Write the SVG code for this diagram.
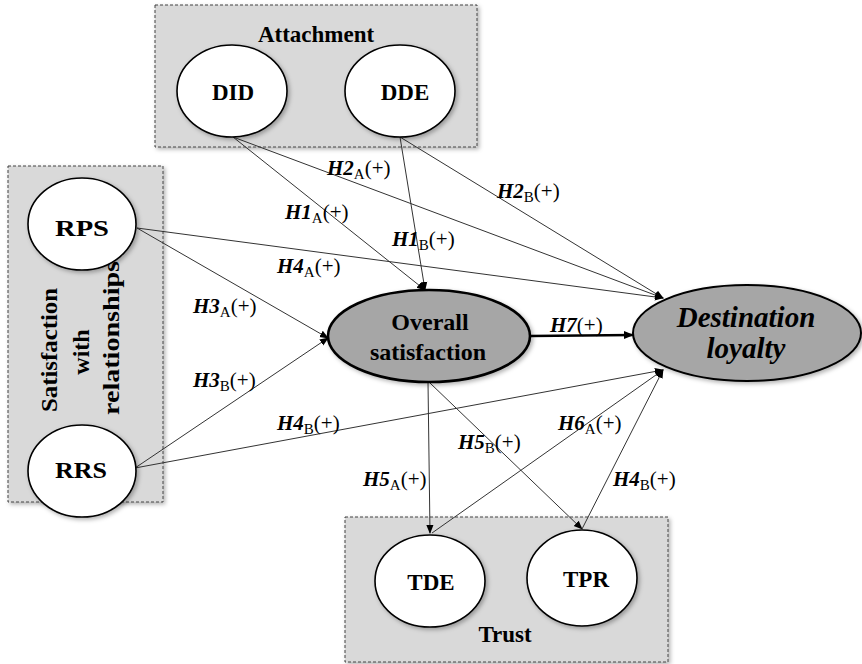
<svg xmlns="http://www.w3.org/2000/svg" width="862" height="664" viewBox="0 0 862 664">
<defs>
<style>
.box{fill:#d9d9d9;stroke:#444;stroke-width:1;stroke-dasharray:3,2}
.wn{fill:#fff;stroke:#000;stroke-width:1.6}
.gn{fill:#a6a6a6;stroke:#000;stroke-width:2.6}
.t{font-family:"Liberation Serif","Times New Roman",serif;font-weight:bold;font-size:23px;fill:#000;text-anchor:middle}
.ti{font-style:italic;font-size:29px}
.os{font-size:24px}
.vt{font-size:24px}
.c{stroke:#333;stroke-width:1;fill:none}
.lbl{font-family:"Liberation Serif","Times New Roman",serif;font-size:21px;fill:#000}
.h{font-weight:bold;font-style:italic}
.s{font-size:15px}
</style>
<filter id="sh" x="-20%" y="-20%" width="140%" height="140%">
<feDropShadow dx="2" dy="2" stdDeviation="2" flood-color="#000" flood-opacity="0.3"/>
</filter>
<marker id="ar" viewBox="0 0 10 10" refX="9" refY="5" markerWidth="9" markerHeight="9" markerUnits="userSpaceOnUse" orient="auto">
<path d="M0,1 L10,5 L0,9 Z" fill="#000"/>
</marker>
<marker id="arb" viewBox="0 0 10 10" refX="9" refY="5" markerWidth="10" markerHeight="10" markerUnits="userSpaceOnUse" orient="auto">
<path d="M0,1 L10,5 L0,9 Z" fill="#000"/>
</marker>
</defs>
<rect width="862" height="664" fill="#fff"/>

<g id="attachment">
<rect class="box" x="155" y="5" width="322" height="142" filter="url(#sh)"/>
<text class="t" x="316" y="42">Attachment</text>
</g>
<g id="satisfaction-relationships">
<rect class="box" x="8" y="166" width="155" height="336" filter="url(#sh)"/>
<text class="t vt" transform="translate(57,350) rotate(-90)" textLength="124" lengthAdjust="spacingAndGlyphs">Satisfaction</text>
<text class="t vt" transform="translate(89,352) rotate(-90)">with</text>
<text class="t vt" transform="translate(119,338) rotate(-90)" textLength="154" lengthAdjust="spacingAndGlyphs">relationships</text>
</g>
<g id="trust">
<rect class="box" x="345" y="517" width="323" height="145" filter="url(#sh)"/>
<text class="t" x="505" y="642">Trust</text>
</g>

<g id="connectors">
<line class="c" x1="233" y1="137" x2="425" y2="290" marker-end="url(#ar)"/>
<line class="c" x1="233" y1="137" x2="663" y2="298" marker-end="url(#ar)"/>
<line class="c" x1="400" y1="137" x2="425" y2="290" marker-end="url(#ar)"/>
<line class="c" x1="400" y1="137" x2="663" y2="298" marker-end="url(#ar)"/>
<line class="c" x1="137" y1="228" x2="663" y2="298" marker-end="url(#ar)"/>
<line class="c" x1="137" y1="228" x2="328" y2="338" marker-end="url(#ar)"/>
<line class="c" x1="135" y1="468" x2="328" y2="338" marker-end="url(#ar)"/>
<line class="c" x1="135" y1="468" x2="663" y2="370" marker-end="url(#ar)"/>
<line x1="530" y1="336" x2="633" y2="335" stroke="#000" stroke-width="2.6" marker-end="url(#arb)"/>
<line class="c" x1="428" y1="382" x2="430" y2="533" marker-end="url(#ar)"/>
<line class="c" x1="430" y1="383" x2="582" y2="529" marker-end="url(#ar)"/>
<line class="c" x1="432" y1="533" x2="663" y2="370" marker-end="url(#ar)"/>
<line class="c" x1="582" y1="529" x2="663" y2="370" marker-end="url(#ar)"/>
</g>

<g id="DID">
<ellipse class="wn" cx="232" cy="91" rx="55" ry="46" filter="url(#sh)"/>
<text class="t" x="233" y="100">DID</text>
</g>
<g id="DDE">
<ellipse class="wn" cx="400" cy="91" rx="55" ry="46" filter="url(#sh)"/>
<text class="t" x="405" y="100">DDE</text>
</g>
<g id="RPS">
<ellipse class="wn" cx="82" cy="224" rx="54" ry="46" filter="url(#sh)"/>
<text class="t" x="82" y="236" textLength="54" lengthAdjust="spacingAndGlyphs">RPS</text>
</g>
<g id="RRS">
<ellipse class="wn" cx="82" cy="471" rx="54" ry="46" filter="url(#sh)"/>
<text class="t" x="81" y="478" textLength="52" lengthAdjust="spacingAndGlyphs">RRS</text>
</g>
<g id="overall">
<ellipse class="gn" cx="429" cy="336" rx="101" ry="46" filter="url(#sh)"/>
<text class="t os" x="430" y="330">Overall</text>
<text class="t os" x="428" y="360">satisfaction</text>
</g>
<g id="loyalty">
<ellipse class="gn" cx="747" cy="333" rx="114" ry="48" style="stroke-width:2" filter="url(#sh)"/>
<text class="t ti" x="746" y="327">Destination</text>
<text class="t ti" x="746" y="358">loyalty</text>
</g>
<g id="TDE">
<ellipse class="wn" cx="430" cy="581" rx="55" ry="46" filter="url(#sh)"/>
<text class="t" x="431" y="590">TDE</text>
</g>
<g id="TPR">
<ellipse class="wn" cx="582" cy="578" rx="55" ry="48" filter="url(#sh)"/>
<text class="t" x="586" y="587">TPR</text>
</g>

<g id="labels">
<text class="lbl" x="327" y="175"><tspan class="h">H2</tspan><tspan class="s" dy="4">A</tspan><tspan dy="-4">(+)</tspan></text>
<text class="lbl" x="497" y="198"><tspan class="h">H2</tspan><tspan class="s" dy="4">B</tspan><tspan dy="-4">(+)</tspan></text>
<text class="lbl" x="285" y="219"><tspan class="h">H1</tspan><tspan class="s" dy="4">A</tspan><tspan dy="-4">(+)</tspan></text>
<text class="lbl" x="392" y="246"><tspan class="h">H1</tspan><tspan class="s" dy="4">B</tspan><tspan dy="-4">(+)</tspan></text>
<text class="lbl" x="277" y="273"><tspan class="h">H4</tspan><tspan class="s" dy="4">A</tspan><tspan dy="-4">(+)</tspan></text>
<text class="lbl" x="193" y="313"><tspan class="h">H3</tspan><tspan class="s" dy="4">A</tspan><tspan dy="-4">(+)</tspan></text>
<text class="lbl" x="193" y="387"><tspan class="h">H3</tspan><tspan class="s" dy="4">B</tspan><tspan dy="-4">(+)</tspan></text>
<text class="lbl" x="277" y="430"><tspan class="h">H4</tspan><tspan class="s" dy="4">B</tspan><tspan dy="-4">(+)</tspan></text>
<text class="lbl" x="550" y="332"><tspan class="h">H7</tspan><tspan>(+)</tspan></text>
<text class="lbl" x="458" y="449"><tspan class="h">H5</tspan><tspan class="s" dy="4">B</tspan><tspan dy="-4">(+)</tspan></text>
<text class="lbl" x="558" y="430"><tspan class="h">H6</tspan><tspan class="s" dy="4">A</tspan><tspan dy="-4">(+)</tspan></text>
<text class="lbl" x="363" y="486"><tspan class="h">H5</tspan><tspan class="s" dy="4">A</tspan><tspan dy="-4">(+)</tspan></text>
<text class="lbl" x="613" y="486"><tspan class="h">H4</tspan><tspan class="s" dy="4">B</tspan><tspan dy="-4">(+)</tspan></text>
</g>
</svg>
